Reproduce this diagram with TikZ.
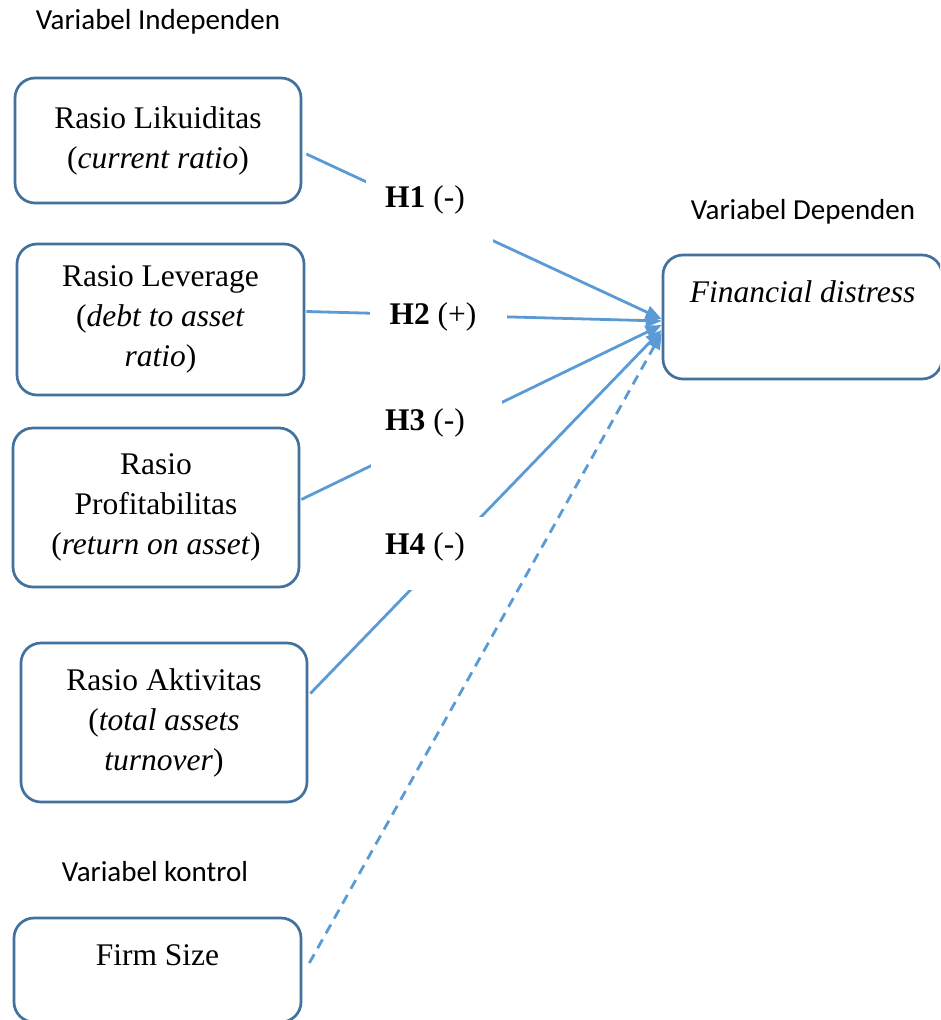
\documentclass[tikz,border=0pt]{standalone}
\usepackage{fontspec}
\setmainfont{Liberation Serif}
\newfontfamily\hdrfont{Carlito}
\usetikzlibrary{arrows.meta}
\definecolor{boxblue}{HTML}{41719C}
\definecolor{lineblue}{HTML}{5B9BD5}
\begin{document}
\begin{tikzpicture}[x=1pt,y=-1pt,
  varbox/.style={draw=boxblue,line width=2.7pt,rounded corners=20pt,align=center,
    font=\fontsize{31.5}{40}\selectfont,inner sep=0pt},
  hdr/.style={font=\hdrfont\fontsize{29}{35}\selectfont,inner sep=0pt},
  hyp/.style={font=\fontsize{31.5}{40}\selectfont,inner sep=0pt},
  link/.style={draw=lineblue,line width=2.8pt,-{Triangle[length=16pt,width=13pt]}},
  ctrl/.style={link,dash pattern=on 10pt off 7pt}
]
\clip (0,0) rectangle (940,1020);
\fill[white] (0,0) rectangle (940,1020);

% headers
\node[hdr] (hi) at (158,22) {Variabel Independen};
\node[hdr] (hd) at (803,212) {Variabel Dependen};
\node[hdr] (hk) at (155,872) {Variabel kontrol};

% boxes
\node[varbox,minimum width=286pt,minimum height=125pt] (b1) at (158,140.5)
  {Rasio Likuiditas\\(\textit{current ratio})\\[-34pt]\mbox{}};
\node[varbox,minimum width=287pt,minimum height=151pt] (b2) at (160.5,319.5)
  {Rasio Leverage\\(\textit{debt to asset}\\\textit{ratio})};
\node[varbox,minimum width=286pt,minimum height=159pt] (b3) at (156,507.5)
  {Rasio\\Profitabilitas\\(\textit{return on asset})};
\node[varbox,minimum width=286pt,minimum height=159pt] (b4) at (164,722.5)
  {Rasio Aktivitas\\(\textit{total assets}\\\textit{turnover})};
\node[varbox,minimum width=287pt,minimum height=104pt,text height=22pt,text depth=31pt] (b5) at (157.5,970)
  {Firm Size};
\node[varbox,minimum width=279pt,minimum height=124pt,text height=22pt,text depth=51pt] (fd) at (802.5,317)
  {\textit{Financial distress}};

% connectors
\draw[link] ([shift={(4,13.5)}]b1.east) -- ([shift={(0,2)}]fd.west);
\draw[link] ([shift={(1,-8)}]b2.east) -- ([shift={(0,4)}]fd.west);
\draw[link] ([shift={(1,-8)}]b3.east) -- ([shift={(0,8)}]fd.west);
\draw[link] ([shift={(2,-29)}]b4.east) -- ([shift={(0,13)}]fd.west);
\draw[ctrl] ([shift={(7,-7)}]b5.east) -- ([shift={(0,16)}]fd.west);

% label backgrounds (gaps in the connectors)
\fill[white] (366,175) rectangle (493,248);
\fill[white] (370,288) rectangle (507,360);
\fill[white] (371,398) rectangle (502,471);
\fill[white] (371,517) rectangle (502,590);

% hypothesis labels
\node[hyp] (h1) at (425,200) {\textbf{H1} (-)};
\node[hyp] (h2) at (433,317) {\textbf{H2} (+)};
\node[hyp] (h3) at (425,423) {\textbf{H3} (-)};
\node[hyp] (h4) at (425,547) {\textbf{H4} (-)};
\end{tikzpicture}
\end{document}
